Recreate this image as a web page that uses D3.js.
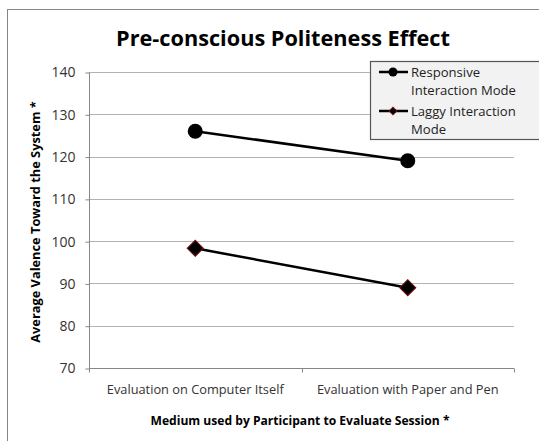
<!DOCTYPE html>
<html>
<head>
<meta charset="utf-8">
<script src="https://cdn.jsdelivr.net/npm/d3@7"></script>
<style>
  body { margin: 0; background: #fff; }
  text { font-family: "Open Sans", sans-serif; }
</style>
</head>
<body>
<div id="chart"></div>
<script>
// data
var categories = ['Evaluation on Computer Itself', 'Evaluation with Paper and Pen'];
var responsive = [126, 119];
var laggy = [98.3, 89];
var seriesNames = ['Responsive Interaction Mode', 'Laggy Interaction Mode'];
var yTicks = [70, 80, 90, 100, 110, 120, 130, 140];

var WIDTH = 539, HEIGHT = 441;
var plot = {left: 89, right: 514, top: 72, bottom: 368};

var svg = d3.select('#chart').append('svg')
    .attr('width', WIDTH)
    .attr('height', HEIGHT);

// chart frame
svg.append('rect')
    .attr('x', 7.5).attr('y', 9.5)
    .attr('width', 560).attr('height', 460)
    .attr('fill', '#fff')
    .attr('stroke', '#868686');

var x = d3.scaleBand().domain(categories).range([plot.left, plot.right]);
var y = d3.scaleLinear().domain([70, 140]).range([plot.bottom, plot.top]);

// gridlines
svg.append('g').selectAll('line')
    .data(yTicks.slice(1))
    .enter().append('line')
    .attr('x1', plot.left).attr('x2', plot.right)
    .attr('y1', d => Math.round(y(d)) + 0.5)
    .attr('y2', d => Math.round(y(d)) + 0.5)
    .attr('stroke', '#b3b3b3')
    .attr('stroke-width', 1.2);

// y axis
var yAxis = svg.append('g')
    .attr('transform', `translate(${plot.left + 0.5},0.5)`)
    .call(d3.axisLeft(y).tickValues(yTicks).tickSize(4).tickPadding(10));
yAxis.selectAll('path, line').attr('stroke', '#868686');
yAxis.select('.domain').attr('d', `M0,${plot.top}V${plot.bottom}`);
yAxis.selectAll('text')
    .attr('font-family', '"Open Sans", sans-serif')
    .attr('font-size', 14)
    .attr('fill', '#333');

// x axis
var xAxis = svg.append('g')
    .attr('transform', `translate(0,${plot.bottom + 0.5})`)
    .call(d3.axisBottom(x).tickSize(0).tickPadding(16));
xAxis.select('.domain').attr('stroke', '#868686').attr('d', `M${plot.left},0H${plot.right}`);
xAxis.selectAll('text')
    .attr('font-family', '"Open Sans", sans-serif')
    .attr('font-size', 12.8)
    .attr('fill', '#333');
// boundary ticks between categories
xAxis.selectAll('.bound')
    .data([plot.left, plot.left + x.bandwidth(), plot.right])
    .enter().append('line')
    .attr('x1', d => Math.round(d) + 0.5).attr('x2', d => Math.round(d) + 0.5)
    .attr('y1', 0).attr('y2', 4)
    .attr('stroke', '#868686');

// lines and markers
var line = d3.line()
    .x((d, i) => x(categories[i]) + x.bandwidth() / 2)
    .y(d => y(d));

[responsive, laggy].forEach(vals => {
  svg.append('path')
      .datum(vals)
      .attr('d', line)
      .attr('fill', 'none')
      .attr('stroke', '#000')
      .attr('stroke-width', 2.5);
});

svg.append('g').selectAll('circle')
    .data(responsive)
    .enter().append('circle')
    .attr('cx', (d, i) => x(categories[i]) + x.bandwidth() / 2)
    .attr('cy', d => y(d))
    .attr('r', 7.5)
    .attr('fill', '#000');

var diamond = d3.symbol().type(d3.symbolSquare).size(130);
svg.append('g').selectAll('path')
    .data(laggy)
    .enter().append('path')
    .attr('d', diamond)
    .attr('transform', (d, i) => `translate(${x(categories[i]) + x.bandwidth() / 2},${y(d)}) rotate(45)`)
    .attr('fill', '#000')
    .attr('stroke', '#7a1010')
    .attr('stroke-width', 1);

// title
svg.append('text')
    .attr('x', 283).attr('y', 46)
    .attr('text-anchor', 'middle')
    .attr('font-size', 21.7)
    .attr('font-weight', 'bold')
    .attr('fill', '#000')
    .text('Pre-conscious Politeness Effect');

// axis titles
svg.append('text')
    .attr('transform', 'translate(40,222) rotate(-90)')
    .attr('text-anchor', 'middle')
    .attr('font-size', 12.8)
    .attr('font-weight', 'bold')
    .attr('fill', '#000')
    .text('Average Valence Toward the System *');

svg.append('text')
    .attr('x', 300).attr('y', 425)
    .attr('text-anchor', 'middle')
    .attr('font-size', 12.1)
    .attr('font-weight', 'bold')
    .attr('fill', '#000')
    .text('Medium used by Participant to Evaluate Session *');

// legend
var legend = svg.append('g');
legend.append('rect')
    .attr('x', 370.5).attr('y', 61.5)
    .attr('width', 200).attr('height', 78)
    .attr('fill', '#f2f2f2')
    .attr('stroke', '#555')
    .attr('stroke-width', 1.2);

var legendRows = [
  {lines: ['Responsive', 'Interaction Mode'], y: 72, mark: 'circle'},
  {lines: ['Laggy Interaction', 'Mode'], y: 111, mark: 'diamond'}
];
legendRows.forEach(r => {
  legend.append('line')
      .attr('x1', 379).attr('x2', 408)
      .attr('y1', r.y).attr('y2', r.y)
      .attr('stroke', '#000').attr('stroke-width', 2.5);
  if (r.mark === 'circle') {
    legend.append('circle').attr('cx', 393).attr('cy', r.y).attr('r', 4.5).attr('fill', '#000');
  } else {
    legend.append('path')
        .attr('d', d3.symbol().type(d3.symbolSquare).size(30))
        .attr('transform', `translate(393,${r.y}) rotate(45)`)
        .attr('fill', '#000').attr('stroke', '#7a1010');
  }
  r.lines.forEach((t, j) => {
    legend.append('text')
        .attr('x', 411).attr('y', r.y + 4.5 + j * 18)
        .attr('font-size', 13.1)
        .attr('fill', '#222')
        .text(t);
  });
});
</script>
</body>
</html>
